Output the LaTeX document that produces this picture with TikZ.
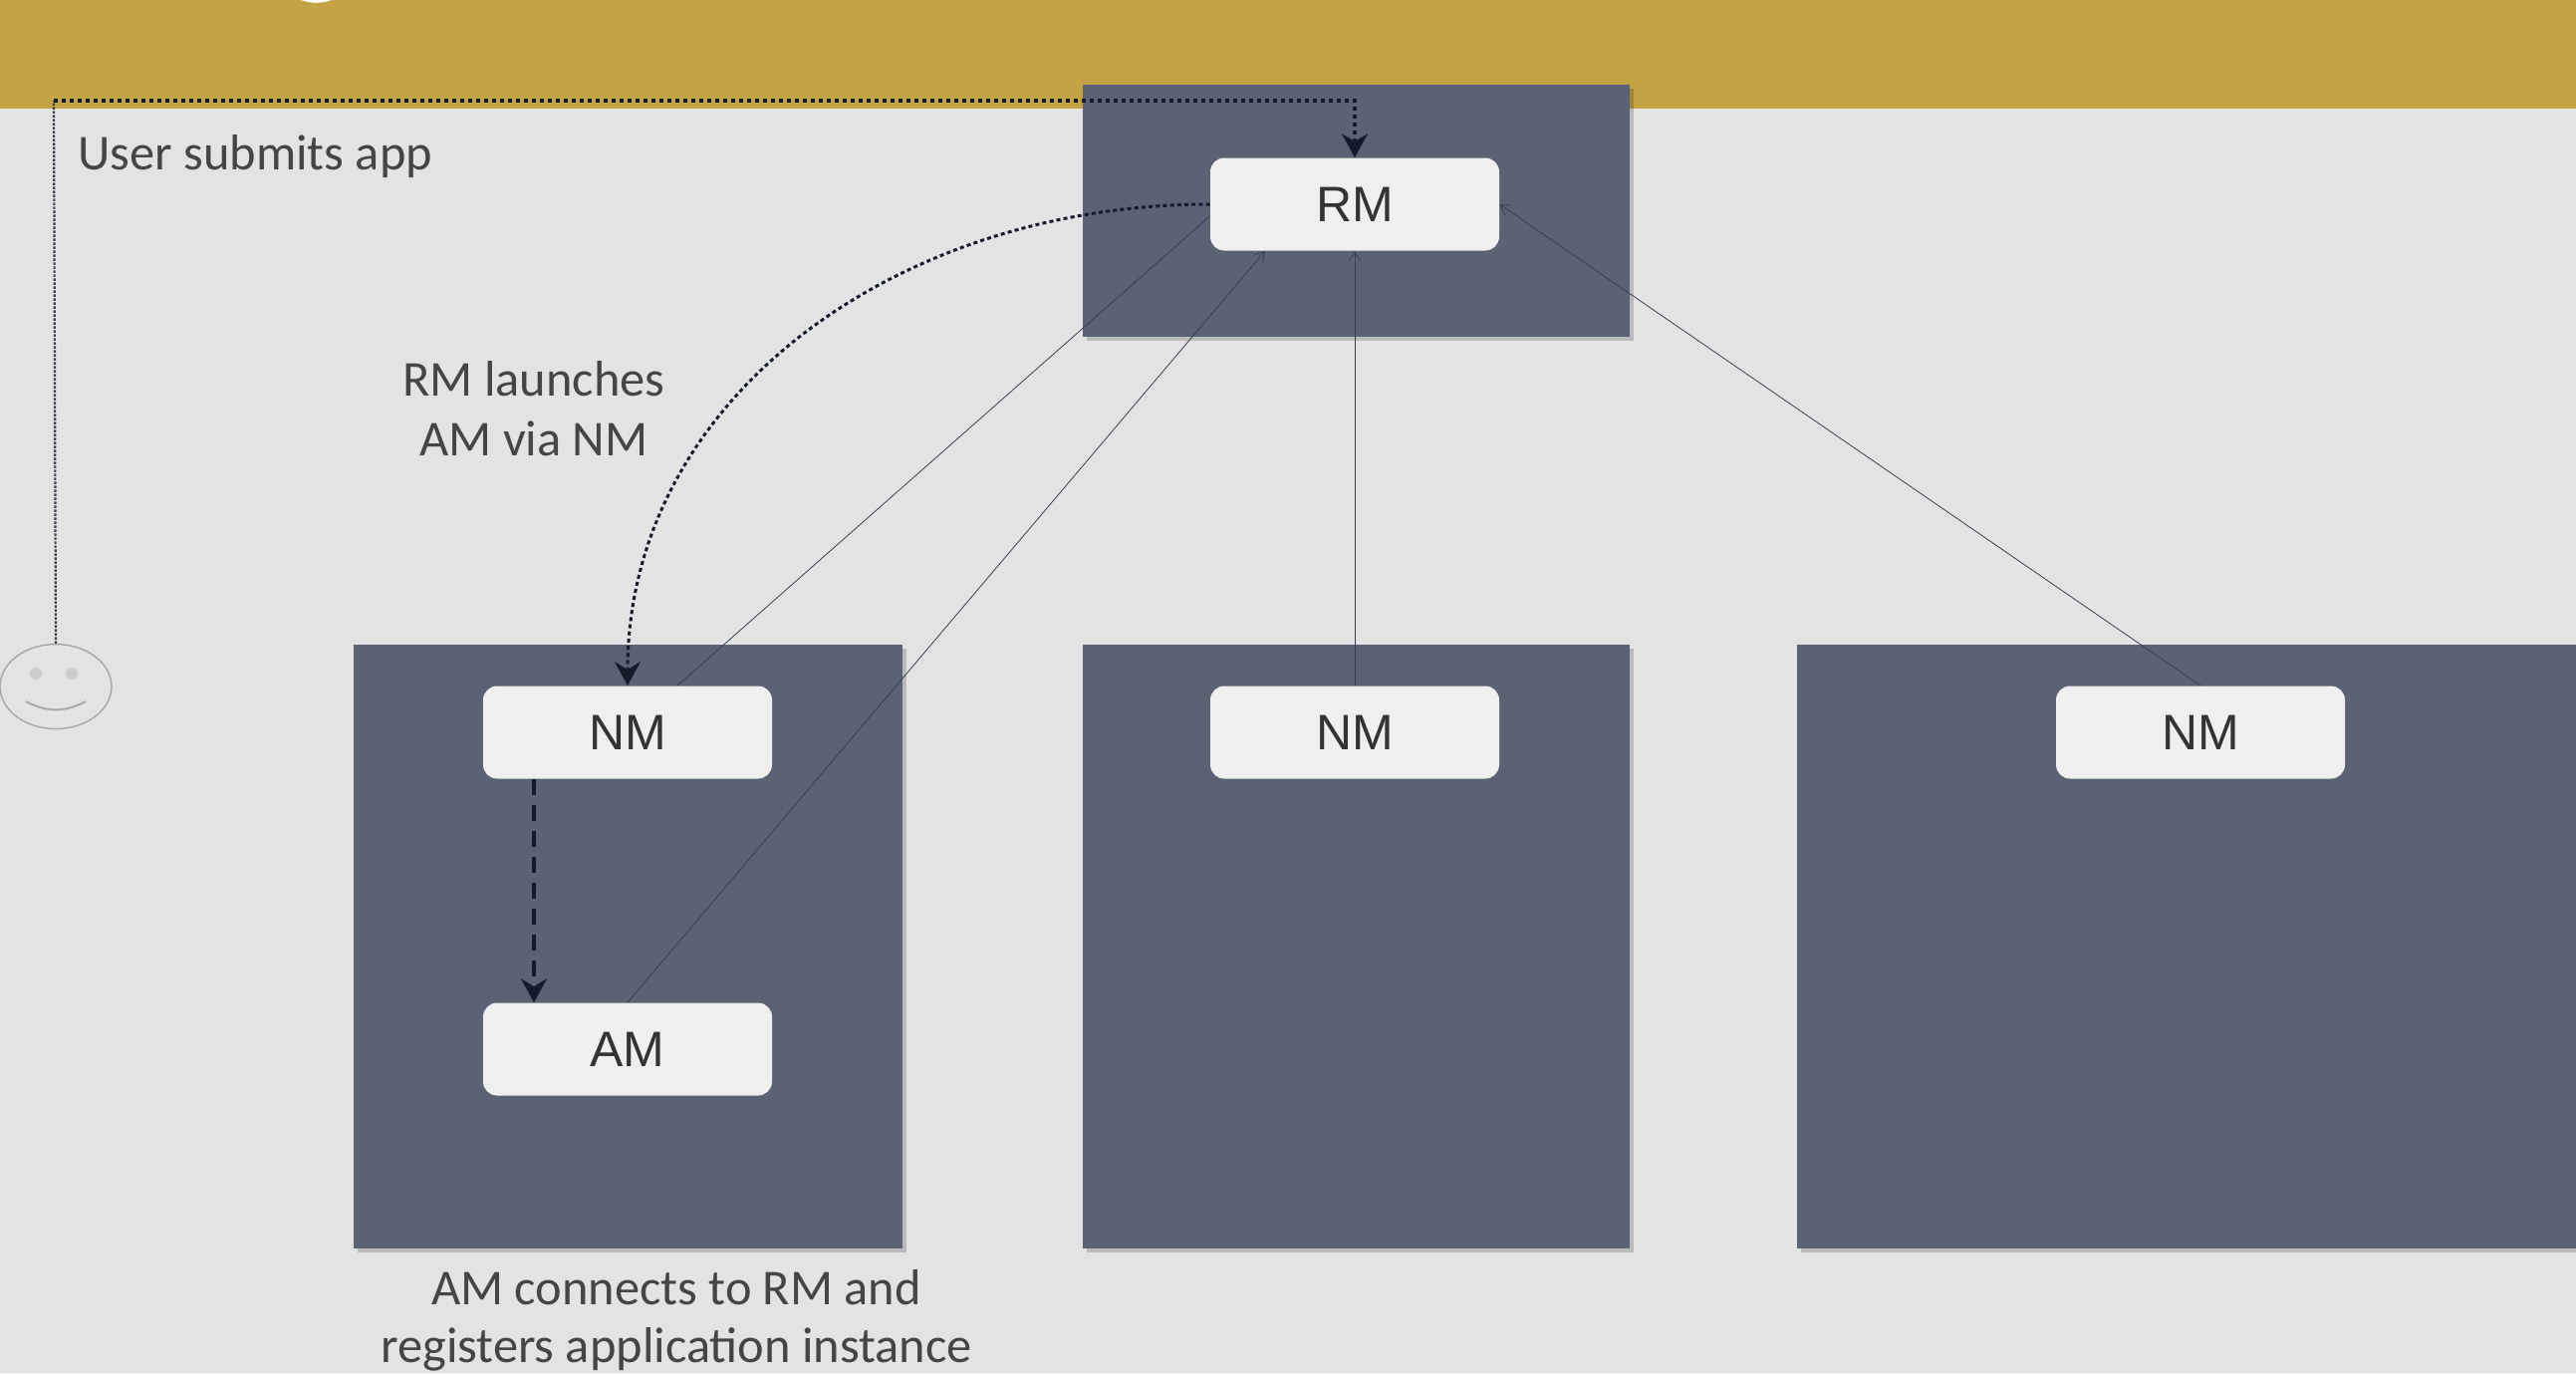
\documentclass[tikz,border=0pt]{standalone}
\usepackage{fontspec}
\setmainfont{Carlito}
\newfontfamily\nodefont{Liberation Sans}
\usetikzlibrary{arrows.meta,shapes.geometric,shadows,calc}
\definecolor{bandc}{HTML}{C4A344}
\definecolor{bgc}{HTML}{E3E3E3}
\definecolor{serverc}{HTML}{5A6274}
\definecolor{boxc}{HTML}{EFEFF0}
\definecolor{inkc}{HTML}{141C2C}
\definecolor{thinc}{HTML}{36404F}
\definecolor{textc}{HTML}{454545}
\tikzset{
  x=0.5pt,y=-0.5pt,
  server/.style={rectangle,fill=serverc,inner sep=0pt,anchor=north west,
    general shadow={shadow xshift=2pt,shadow yshift=-2pt,fill=black,opacity=.18}},
  daemon/.style={rectangle,rounded corners=7pt,fill=boxc,inner sep=0pt,minimum width=145pt,minimum height=46.5pt,
    text=black!80,font=\nodefont\fontsize{25}{30}\selectfont},
  caption/.style={text=textc,font=\fontsize{25.2}{29}\selectfont,align=center,inner sep=0pt},
  thick dots/.style={draw=inkc,line width=2.4pt,dash pattern=on 2pt off 2pt},
  thin link/.style={draw=thinc,line width=0.4pt},
  thin tip/.style={-{Straight Barb[length=5pt,width=6pt,line width=0.4pt]}},
  big tip/.style={-{Stealth[length=12pt,width=13pt,inset=4pt,fill=inkc]}},
}
\begin{document}
\begin{tikzpicture}
\useasboundingbox (0,0) rectangle (2586,1378);
\clip (0,0) rectangle (2586,1378);
\fill[bgc] (0,0) rectangle (2586,1378);
\fill[bandc] (0,0) rectangle (2586,109);
\fill[white] (302,0) -- (333,0) to[bend left=18] (302,0);

\node[server,minimum width=274.5pt,minimum height=126.5pt] (S0) at (1087,85) {};
\node[server,minimum width=275.5pt,minimum height=303pt] (S1) at (355,647) {};
\node[server,minimum width=274.5pt,minimum height=303pt] (S2) at (1087,647) {};
\node[server,minimum width=391pt,minimum height=303pt] (S3) at (1804,647) {};

\node[daemon] (RM) at (1360,205) {RM};
\node[daemon] (NM1) at (630,735) {NM};
\node[daemon] (AM) at (630,1053) {AM};
\node[daemon] (NM2) at (1360,735) {NM};
\node[daemon] (NM3) at (2209,735) {NM};

\node[ellipse,draw=black!35,line width=0.7pt,fill=bgc,minimum width=56pt,minimum height=42.5pt,inner sep=0pt] (user) at (56,689) {};
\fill[black!20] (36,676) circle (3pt) (72,676) circle (3pt);
\draw[black!35,line width=0.9pt] (26,704) to[bend right=28] (86,704);

\coordinate (corner) at (54,101);
\draw[draw=thinc,line width=1.1pt,dash pattern=on 1.2pt off 0.8pt] (user.north) -- (corner);
\draw[thick dots,big tip] (corner) -| (RM.north);
\draw[draw=inkc,line width=1.5pt,dash pattern=on 2pt off 1.6pt,big tip] (RM.west) .. controls (900,205) and (630,400) .. (NM1.north);
\draw[draw=inkc,line width=2pt,dash pattern=on 8pt off 5pt,big tip] ([xshift=-47pt]NM1.south) -- ([xshift=-47pt]AM.north);

\draw[thin link] ([xshift=25pt]NM1.north) -- ([yshift=-6pt]RM.west);
\draw[thin link,thin tip] (AM.north) -- ([xshift=-45pt]RM.south);
\draw[thin link,thin tip] (NM2.north) -- (RM.south);
\draw[thin link,thin tip] (NM3.north) -- (RM.east);

\node[caption,anchor=west] (t1) at (78,157) {User submits app};
\node[caption,font=\fontsize{25.2}{30}\selectfont] (t2) at (536,410) {RM launches\\AM via NM};
\node[caption] (t3) at (679,1325) {AM connects to RM and\\registers application instance};
\end{tikzpicture}
\end{document}
